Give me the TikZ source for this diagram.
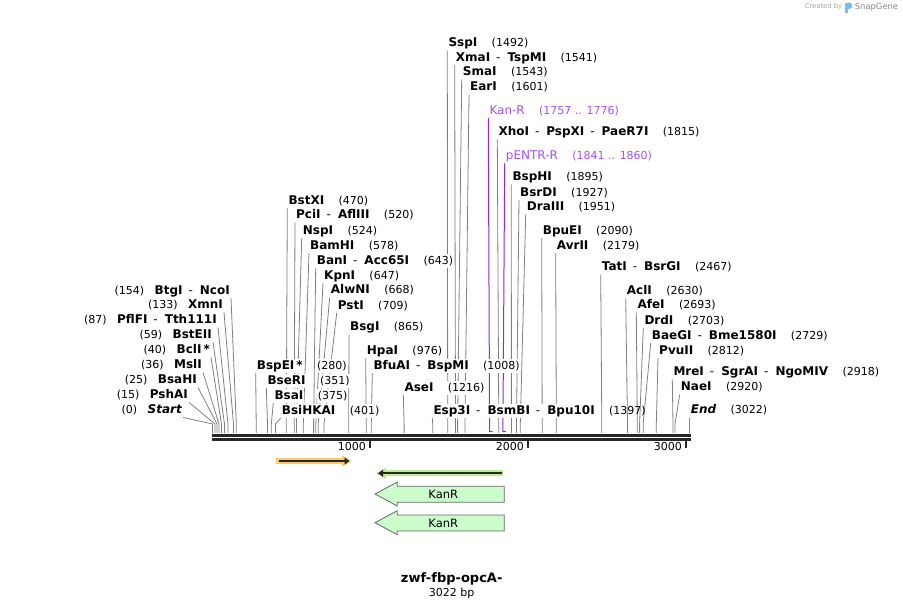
\documentclass[tikz,border=0pt]{standalone}
\usepackage{fontspec}
\newfontfamily\snapfont{DejaVu Sans}
\usetikzlibrary{arrows.meta,backgrounds}
\definecolor{leadgray}{RGB}{128,128,128}
\definecolor{seqcolor}{RGB}{40,40,40}
\definecolor{primercolor}{RGB}{165,80,245}
\definecolor{primerline}{RGB}{140,40,230}
\definecolor{kanfill}{RGB}{204,252,204}
\definecolor{kanedge}{RGB}{105,105,105}
\definecolor{halogreen}{RGB}{185,238,140}
\definecolor{haloorange}{RGB}{252,200,110}
\definecolor{logoblue}{RGB}{120,190,235}
\newcommand{\namefont}{\snapfont\fontsize{12}{14}\selectfont\bfseries}
\newcommand{\numfont}{\snapfont\fontsize{11}{13}\selectfont}
\newcommand{\dash}{\hspace{6pt}{\mdseries -}\hspace{7pt}}
\newcommand{\elbow}{9pt}
\tikzset{
  site/.style={font=\namefont, fill=white, inner sep=1pt, text height=9pt, text depth=2.5pt, anchor=west},
  siteleft/.style={font=\namefont, fill=white, inner sep=1pt, text height=9pt, text depth=2.5pt, anchor=east},
  sitenum/.style={font=\numfont, fill=white, inner sep=1pt, text height=9pt, text depth=2.5pt, xshift=12pt},
  sitenumleft/.style={font=\numfont, fill=white, inner sep=1pt, text height=9pt, text depth=2.5pt, xshift=-8pt},
  primer/.style={font=\snapfont\fontsize{12}{14}\selectfont, text=primercolor, fill=white, inner sep=1pt, text height=9pt, text depth=2.5pt, anchor=west},
  primernum/.style={font=\numfont, text=primercolor, fill=white, inner sep=1pt, text height=9pt, text depth=2.5pt, xshift=12pt},
  leader/.style={draw=leadgray, line width=0.8pt},
  featline/.style={draw=seqcolor, line width=2pt}
}

\begin{document}
\begin{tikzpicture}[x=1pt,y=-1pt]
\useasboundingbox (0,0) rectangle (903,608);
%created by
\node[font=\snapfont\fontsize{6.8}{8}\selectfont, text={rgb,255:red,165;green,165;blue,165}, inner sep=0pt] (createdby) at (823.5,7) {Created by};
\fill[logoblue] (845,2.5) rectangle (847.8,13);
\fill[logoblue] (847.8,2.5) -- (849.5,2.5) .. controls (853,2.5) and (853,9) .. (849.5,9) -- (847.8,9) -- cycle;
\node[font=\snapfont\fontsize{8.4}{10}\selectfont, text={rgb,255:red,135;green,135;blue,135}, inner sep=0pt] (snapgene) at (876.5,7.5) {SnapGene};
%sequence
\coordinate (seqstart) at (212,435);
\coordinate (seqend) at (690.5,435);
\draw[seqcolor, line width=3pt] (seqstart) -- (seqend);
\draw[seqcolor, line width=2.5pt] ([yshift=-4.5pt]seqstart) -- ([yshift=-4.5pt]seqend);
\draw[seqcolor, line width=1.8pt] (370,440.5) -- (370,447.5);
\draw[seqcolor, line width=1.8pt] (528,440.5) -- (528,447.5);
\draw[seqcolor, line width=1.8pt] (686,440.5) -- (686,447.5);
\node[font=\numfont, anchor=east, inner sep=0pt] (t1000) at (366,446.5) {1000};
\node[font=\numfont, anchor=east, inner sep=0pt] (t2000) at (524,446.5) {2000};
\node[font=\numfont, anchor=east, inner sep=0pt] (t3000) at (682,446.5) {3000};
%cut sites
\coordinate (cut0) at (212.5,433);
\coordinate (cut15) at (215,433);
\coordinate (cut25) at (217,433);
\coordinate (cut36) at (219,433);
\coordinate (cut40) at (221.5,433);
\coordinate (cut59) at (224.5,433);
\coordinate (cut87) at (228,433);
\coordinate (cut133) at (233.5,433);
\coordinate (cut154) at (236.3,433);
\coordinate (cut280) at (256.2,433);
\coordinate (cut351) at (267.5,433);
\coordinate (cut375) at (271.3,433);
\coordinate (cut401) at (275.4,433);
\coordinate (cut470) at (286.3,433);
\coordinate (cut520) at (294.2,433);
\coordinate (cut524) at (296.5,433);
\coordinate (cut578) at (303.3,433);
\coordinate (cut643) at (313.6,433);
\coordinate (cut647) at (315.8,433);
\coordinate (cut668) at (318.2,433);
\coordinate (cut709) at (324,433);
\coordinate (cut865) at (348.7,433);
\coordinate (cut976) at (366.2,433);
\coordinate (cut1008) at (371.3,433);
\coordinate (cut1216) at (404.1,433);
\coordinate (cut1397) at (432.7,433);
\coordinate (cut1492) at (447.7,433);
\coordinate (cut1541) at (455.5,433);
\coordinate (cut1543) at (457.6,433);
\coordinate (cut1601) at (465,433);
\coordinate (cut1815) at (498.8,433);
\coordinate (cut1895) at (511.4,433);
\coordinate (cut1927) at (516.5,433);
\coordinate (cut1951) at (520.3,433);
\coordinate (cut2090) at (542.2,433);
\coordinate (cut2179) at (556.3,433);
\coordinate (cut2467) at (601.8,433);
\coordinate (cut2630) at (627.5,433);
\coordinate (cut2693) at (637.3,433);
\coordinate (cut2703) at (639.6,433);
\coordinate (cut2729) at (643.2,433);
\coordinate (cut2812) at (656.3,433);
\coordinate (cut2918) at (673,433);
\coordinate (cut2920) at (675,433);
\coordinate (cut3022) at (689.5,433);
%primer ends
\coordinate (kanfrom) at (489.6,431.5);
\coordinate (kanto) at (492.6,431.5);
\coordinate (entrfrom) at (502.9,431.5);
\coordinate (entrto) at (505.9,431.5);
%left sites
\node[siteleft, label={[sitenumleft]left:(154)}] (btgi) at (231,291) {BtgI\dash NcoI};
\node[siteleft, label={[sitenumleft]left:(133)}] (xmni) at (224,305.5) {XmnI};
\node[siteleft, label={[sitenumleft]left:(87)}] (pflfi) at (218,320.5) {PflFI\dash Tth111I};
\node[siteleft, label={[sitenumleft]left:(59)}] (bsteii) at (213,335) {BstEII};
\node[siteleft, label={[sitenumleft]left:(40)}] (bcli) at (211,350.5) {BclI\,*};
\node[siteleft, label={[sitenumleft]left:(36)}] (msli) at (203,365.5) {MslI};
\node[siteleft, label={[sitenumleft]left:(25)}] (bsahi) at (198,380.5) {BsaHI};
\node[siteleft, label={[sitenumleft]left:(15)}] (pshai) at (189,395.5) {PshAI};
\node[siteleft, label={[sitenumleft]left:(0)}] (startsite) at (183,410.5) {\itshape Start};
%middle sites
\node[site, label={[sitenum]right:(280)}] (bspei) at (255.7,366) {BspEI\,*};
\node[site, label={[sitenum]right:(351)}] (bseri) at (266.3,381) {BseRI};
\node[site, label={[sitenum]right:(375)}] (bsai) at (273.3,396) {BsaI};
\node[site, label={[sitenum]right:(401)}] (bsihkai) at (280.7,411) {BsiHKAI};
\node[site, label={[sitenum]right:(470)}] (bstxi) at (287.3,201) {BstXI};
\node[site, label={[sitenum]right:(520)}] (pcii) at (295,215.5) {PciI\dash AflIII};
\node[site, label={[sitenum]right:(524)}] (nspi) at (301.7,231) {NspI};
\node[site, label={[sitenum]right:(578)}] (bamhi) at (309,246) {BamHI};
\node[site, label={[sitenum]right:(643)}] (bani) at (315.7,261) {BanI\dash Acc65I};
\node[site, label={[sitenum]right:(647)}] (kpni) at (323,276) {KpnI};
\node[site, label={[sitenum]right:(668)}] (alwni) at (329.7,290.5) {AlwNI};
\node[site, label={[sitenum]right:(709)}] (psti) at (336.7,306) {PstI};
\node[site, label={[sitenum]right:(865)}] (bsgi) at (349,327.5) {BsgI};
\node[site, label={[sitenum]right:(976)}] (hpai) at (365.7,351.5) {HpaI};
\node[site, label={[sitenum]right:(1008)}] (bfuai) at (372.3,366) {BfuAI\dash BspMI};
\node[site, label={[sitenum]right:(1216)}] (asei) at (403.3,388) {AseI};
\node[site, label={[sitenum, fill=none]right:(1397)}] (esp3i) at (432.3,411) {Esp3I\dash BsmBI\dash Bpu10I};
%top sites
\node[site, label={[sitenum]right:(1492)}] (sspi) at (447.3,43.5) {SspI};
\node[site, label={[sitenum]right:(1541)}] (xmai) at (454.7,58) {XmaI\dash TspMI};
\node[site, label={[sitenum]right:(1543)}] (smai) at (461.7,72.5) {SmaI};
\node[site, label={[sitenum]right:(1601)}] (eari) at (469,87.5) {EarI};
\node[primer, label={[primernum]right:(1757 .. 1776)}] (kanr) at (488.3,111) {Kan-R};
\node[site, label={[sitenum]right:(1815)}] (xhoi) at (497.3,132.5) {XhoI\dash PspXI\dash PaeR7I};
\node[primer, label={[primernum]right:(1841 .. 1860)}] (pentr) at (504.7,156.5) {pENTR-R};
\node[site, label={[sitenum]right:(1895)}] (bsphi) at (511.3,177.5) {BspHI};
\node[site, label={[sitenum]right:(1927)}] (bsrdi) at (519,193) {BsrDI};
\node[site, label={[sitenum]right:(1951)}] (draiii) at (525.7,207.5) {DraIII};
\node[site, label={[sitenum]right:(2090)}] (bpuei) at (541.7,231) {BpuEI};
\node[site, label={[sitenum]right:(2179)}] (avrii) at (555.7,246) {AvrII};
%right sites
\node[site, label={[sitenum]right:(2467)}] (tati) at (600.7,267.5) {TatI\dash BsrGI};
\node[site, label={[sitenum]right:(2630)}] (acli) at (625.7,291.5) {AclI};
\node[site, label={[sitenum]right:(2693)}] (afei) at (636.3,305.5) {AfeI};
\node[site, label={[sitenum]right:(2703)}] (drdi) at (643.3,321) {DrdI};
\node[site, label={[sitenum]right:(2729)}] (baegi) at (650.7,336) {BaeGI\dash Bme1580I};
\node[site, label={[sitenum]right:(2812)}] (pvuii) at (658,351) {PvuII};
\node[site, label={[sitenum]right:(2918)}] (mrei) at (672.3,372.5) {MreI\dash SgrAI\dash NgoMIV};
\node[site, label={[sitenum]right:(2920)}] (naei) at (679.7,387.5) {NaeI};
\node[site, label={[sitenum]right:(3022)}] (endsite) at (689.7,410.5) {\itshape End};
%leaders
\begin{scope}[on background layer]
\draw[leader] (btgi.south east) -- ([yshift=\elbow]cut154) -- (cut154);
\draw[leader] (xmni.south east) -- ([yshift=\elbow]cut133) -- (cut133);
\draw[leader] (pflfi.south east) -- ([yshift=\elbow]cut87) -- (cut87);
\draw[leader] (bsteii.south east) -- ([yshift=\elbow]cut59) -- (cut59);
\draw[leader] (bcli.south east) -- ([yshift=\elbow]cut40) -- (cut40);
\draw[leader] (msli.south east) -- ([yshift=\elbow]cut36) -- (cut36);
\draw[leader] (bsahi.south east) -- ([yshift=\elbow]cut25) -- (cut25);
\draw[leader] (pshai.south east) -- ([yshift=\elbow]cut15) -- (cut15);
\draw[leader] (startsite.south east) -- ([yshift=\elbow]cut0) -- (cut0);
\draw[leader] (bspei.south west) -- ([yshift=\elbow]cut280) -- (cut280);
\draw[leader] (bseri.south west) -- ([yshift=\elbow]cut351) -- (cut351);
\draw[leader] (bsai.south west) -- ([yshift=\elbow]cut375) -- (cut375);
\draw[leader] (bsihkai.south west) -- ([yshift=\elbow]cut401) -- (cut401);
\draw[leader] (bstxi.south west) -- ([yshift=\elbow]cut470) -- (cut470);
\draw[leader] (pcii.south west) -- ([yshift=\elbow]cut520) -- (cut520);
\draw[leader] (nspi.south west) -- ([yshift=\elbow]cut524) -- (cut524);
\draw[leader] (bamhi.south west) -- ([yshift=\elbow]cut578) -- (cut578);
\draw[leader] (bani.south west) -- ([yshift=\elbow]cut643) -- (cut643);
\draw[leader] (kpni.south west) -- ([yshift=\elbow]cut647) -- (cut647);
\draw[leader] (alwni.south west) -- ([yshift=\elbow]cut668) -- (cut668);
\draw[leader] (psti.south west) -- ([yshift=\elbow]cut709) -- (cut709);
\draw[leader] (bsgi.south west) -- ([yshift=\elbow]cut865) -- (cut865);
\draw[leader] (hpai.south west) -- ([yshift=\elbow]cut976) -- (cut976);
\draw[leader] (bfuai.south west) -- ([yshift=\elbow]cut1008) -- (cut1008);
\draw[leader] (asei.south west) -- ([yshift=\elbow]cut1216) -- (cut1216);
\draw[leader] (esp3i.south west) -- ([yshift=\elbow]cut1397) -- (cut1397);
\draw[leader] (sspi.south west) -- ([yshift=\elbow]cut1492) -- (cut1492);
\draw[leader] (xmai.south west) -- ([yshift=\elbow]cut1541) -- (cut1541);
\draw[leader] (smai.south west) -- ([yshift=\elbow]cut1543) -- (cut1543);
\draw[leader] (eari.south west) -- ([yshift=\elbow]cut1601) -- (cut1601);
\draw[leader] (xhoi.south west) -- ([yshift=\elbow]cut1815) -- (cut1815);
\draw[leader] (bsphi.south west) -- ([yshift=\elbow]cut1895) -- (cut1895);
\draw[leader] (bsrdi.south west) -- ([yshift=\elbow]cut1927) -- (cut1927);
\draw[leader] (draiii.south west) -- ([yshift=\elbow]cut1951) -- (cut1951);
\draw[leader] (bpuei.south west) -- ([yshift=\elbow]cut2090) -- (cut2090);
\draw[leader] (avrii.south west) -- ([yshift=\elbow]cut2179) -- (cut2179);
\draw[leader] (tati.south west) -- ([yshift=\elbow]cut2467) -- (cut2467);
\draw[leader] (acli.south west) -- ([yshift=\elbow]cut2630) -- (cut2630);
\draw[leader] (afei.south west) -- ([yshift=\elbow]cut2693) -- (cut2693);
\draw[leader] (drdi.south west) -- ([yshift=\elbow]cut2703) -- (cut2703);
\draw[leader] (baegi.south west) -- ([yshift=\elbow]cut2729) -- (cut2729);
\draw[leader] (pvuii.south west) -- ([yshift=\elbow]cut2812) -- (cut2812);
\draw[leader] (mrei.south west) -- ([yshift=\elbow]cut2918) -- (cut2918);
\draw[leader] (naei.south west) -- ([yshift=\elbow]cut2920) -- (cut2920);
\draw[leader] (endsite.south west) -- ([yshift=\elbow]cut3022) -- (cut3022);
\draw[primerline, line width=1pt] (kanr.south west) -- (kanfrom) -- (kanto);
\draw[primerline, line width=1pt] (pentr.south west) -- (entrfrom) -- (entrto);
\end{scope}
%features
\fill[haloorange] (276,458.3) rectangle (344,463.7);
\fill[haloorange] (342,455.5) -- (352,461) -- (342,466.5) -- cycle;
\draw[featline, -{Triangle[length=5pt,width=7pt]}] (278.5,461) -- (349.5,461);
\fill[halogreen] (384,470.3) rectangle (503,476.3);
\fill[halogreen] (386,467.8) -- (375.7,473.3) -- (386,478.8) -- cycle;
\draw[featline, -{Triangle[length=5pt,width=7pt]}] (501.5,473.3) -- (378,473.3);
\draw[kanedge, fill=kanfill, line width=0.8pt] (504.3,486.3) -- (397.3,486.3) -- (397.3,482) -- (375,494) -- (397.3,506) -- (397.3,502.3) -- (504.3,502.3) -- cycle;
\node[font=\snapfont\fontsize{11.5}{13}\selectfont, inner sep=0pt] (kanr1) at (443.3,494.5) {KanR};
\draw[kanedge, fill=kanfill, line width=0.8pt] (504.3,515) -- (397.3,515) -- (397.3,510.7) -- (375,522.7) -- (397.3,534.7) -- (397.3,531) -- (504.3,531) -- cycle;
\node[font=\snapfont\fontsize{11.5}{13}\selectfont, inner sep=0pt] (kanr2) at (443.3,523.2) {KanR};
%title
\node[font=\snapfont\fontsize{13}{15}\selectfont\bfseries, inner sep=0pt] (title) at (451.7,578.5) {zwf-fbp-opcA-};
\node[font=\numfont, inner sep=0pt] (bpsize) at (451.7,593.5) {3022 bp};
\end{tikzpicture}
\end{document}
